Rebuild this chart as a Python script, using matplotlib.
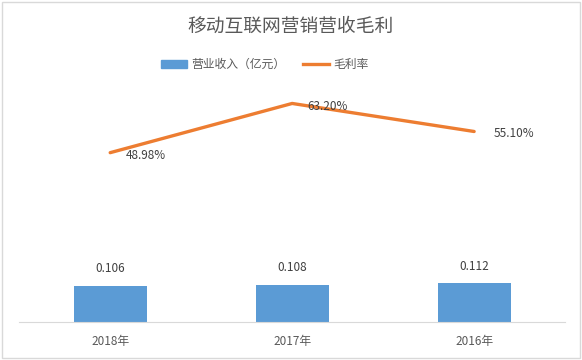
import matplotlib
matplotlib.use('Agg')
import matplotlib.pyplot as plt
from matplotlib.patches import Rectangle
from matplotlib.lines import Line2D

plt.rcParams['font.family'] = ['Noto Sans CJK SC', 'DejaVu Sans']

years = ['2018年', '2017年', '2016年']
revenue = [0.106, 0.108, 0.112]
margin = [48.98, 63.20, 55.10]
margin_labels = ['48.98%', '63.20%', '55.10%']

blue = '#5B9BD5'
orange = '#ED7D31'
txt = '#595959'

fig = plt.figure(figsize=(5.82, 3.6), dpi=100)
ax = fig.add_axes([0.033, 0.105, 0.938, 0.673])
x = range(len(years))

ax.bar(x, revenue, width=0.4, color=blue, zorder=2)
ax.set_ylim(0, 0.7)
ax.set_xlim(-0.5, 2.5)
for i, v in enumerate(revenue):
    ax.text(i, v + 0.03, f'{v:.3f}', ha='center', va='bottom', fontsize=8.5, color='#404040')

ax2 = ax.twinx()
ax2.plot(x, margin, color=orange, lw=2.4, solid_capstyle='round', zorder=3)
ax2.set_ylim(0, 70)
offsets = [(11, -2), (11, -2), (14, -1.5)]
for i, (v, lab) in enumerate(zip(margin, margin_labels)):
    ax2.annotate(lab, (i, v), xytext=offsets[i], textcoords='offset points',
                 ha='left', va='center', fontsize=8.5, color='#404040')

for a in (ax, ax2):
    for s in ('top', 'right', 'left'):
        a.spines[s].set_visible(False)
    a.set_yticks([])
ax2.spines['bottom'].set_visible(False)
ax.spines['bottom'].set_color('#D9D9D9')
ax.set_xticks(list(x))
ax.set_xticklabels(years, fontsize=8.5, color=txt)
ax.tick_params(axis='x', length=0, pad=9)

fig.text(0.5, 0.928, '移动互联网营销营收毛利', ha='center', va='center',
         fontsize=13.5, color=txt, fontweight='light')

handles = [Rectangle((0, 0), 1, 1, color=blue),
           Line2D([0], [0], color=orange, lw=2.4)]
fig.legend(handles, ['营业收入（亿元）', '毛利率'], loc='center',
           bbox_to_anchor=(0.455, 0.82), ncol=2, frameon=False, fontsize=8.5,
           labelcolor=txt, handlelength=2.2, handleheight=0.6, columnspacing=1.5,
           handletextpad=0.4)

fig.patches.append(Rectangle((0.003, 0.005), 0.994, 0.99, transform=fig.transFigure,
                             fill=False, edgecolor='#D9D9D9', lw=1))

fig.savefig('out.png', dpi=100)
